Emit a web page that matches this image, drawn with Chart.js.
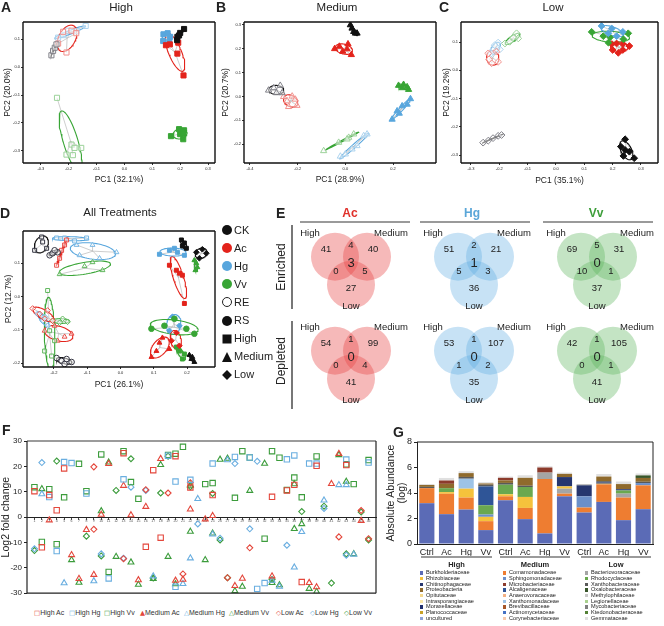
<!DOCTYPE html>
<html>
<head>
<meta charset="utf-8">
<script src="https://cdn.jsdelivr.net/npm/chart.js@4.4.0/dist/chart.umd.min.js"></script>
<style>
body { margin: 0; background: #fff; font-family: "Liberation Sans", Arial, "DejaVu Sans", sans-serif; color: #222; }
#page { position: relative; width: 664px; height: 626px; overflow: hidden; }
canvas { position: absolute; }
.t { position: absolute; white-space: nowrap; line-height: 1; }
.c { transform: translate(-50%, -50%); }
.L { font-weight: bold; font-size: 14px; }
.rot { transform: translate(-50%, -50%) rotate(-90deg); }
.hl { position: absolute; height: 2px; background: #9a9a9a; }
.vl { position: absolute; width: 1.5px; background: #777; }
</style>
</head>
<body>
<div id="page">
  <canvas id="pa" width="218" height="195" style="left:0;top:0"></canvas>
  <canvas id="pb" width="220" height="195" style="left:218px;top:0"></canvas>
  <canvas id="pc" width="226" height="195" style="left:438px;top:0"></canvas>
  <canvas id="pd" width="220" height="190" style="left:0;top:203px"></canvas>
  <canvas id="pe" width="389" height="210" style="left:275px;top:200px"></canvas>
  <canvas id="pf" width="382" height="175" style="left:0;top:425px"></canvas>
  <canvas id="pg" width="279" height="134" style="left:385px;top:428px"></canvas>

  <div class="t L" style="left:1px;top:0">A</div>
  <div class="t c" style="left:121px;top:8px;font-size:11.5px">High</div>
  <div class="t L" style="left:216px;top:0">B</div>
  <div class="t c" style="left:337px;top:8px;font-size:11.5px">Medium</div>
  <div class="t L" style="left:439px;top:0">C</div>
  <div class="t c" style="left:553px;top:8px;font-size:11.5px">Low</div>
  <div class="t L" style="left:0;top:206px">D</div>
  <div class="t c" style="left:120px;top:213px;font-size:11.5px">All Treatments</div>

  <div class="t L" style="left:276px;top:206px">E</div>
  <div class="t c" style="left:350px;top:213px;font-size:12px;font-weight:bold;color:#e0302a">Ac</div>
  <div class="t c" style="left:472px;top:213px;font-size:12px;font-weight:bold;color:#5aa6d8">Hg</div>
  <div class="t c" style="left:596px;top:213px;font-size:12px;font-weight:bold;color:#3d9e3a">Vv</div>
  <div class="hl" style="left:300px;top:221px;width:110px"></div>
  <div class="hl" style="left:420px;top:221px;width:110px"></div>
  <div class="hl" style="left:543px;top:221px;width:110px"></div>
  <div class="t rot" style="left:281px;top:267px;font-size:12px">Enriched</div>
  <div class="vl" style="left:291px;top:225px;height:84px"></div>
  <div class="t rot" style="left:281px;top:361px;font-size:12px">Depleted</div>
  <div class="vl" style="left:291px;top:321px;height:88px"></div>

  <div class="t L" style="left:2px;top:423px">F</div>
  <div class="t L" style="left:393px;top:425px">G</div>
</div>

<script>
Chart.defaults.font.family = '"Liberation Sans", Arial, sans-serif';
Chart.defaults.color = '#222';
Chart.defaults.animation = false;
Chart.defaults.events = [];
Chart.defaults.layout.autoPadding = false;
Chart.defaults.plugins.legend.display = false;
Chart.defaults.plugins.tooltip.enabled = false;

const BLACK = '#111', RED = '#e3231b', BLUE = '#58a6dd', GREEN = '#38a535';

// ---------- PCA scores [PC1, PC2] ----------
// A  High (squares)
const aCkRS = [[0.189,0.096],[0.2,0.122],[0.214,0.136],[0.19,0.108],[0.196,0.113]];
const aAcRS = [[0.149,0.078],[0.163,0.081],[0.19,0.048],[0.193,0.087],[0.212,-0.03]];
const aHgRS = [[0.14,0.117],[0.155,0.121],[0.164,0.108],[0.139,0.093],[0.161,0.09]];
const aVvRS = [[0.167,-0.247],[0.196,-0.222],[0.214,-0.226],[0.2,-0.24],[0.211,-0.258],[0.212,-0.238]];
const aCkRE = [[-0.262,0.042],[-0.256,0.058],[-0.25,0.069],[-0.244,0.081]];
const aAcRE = [[-0.208,0.052],[-0.22,0.126],[-0.19,0.13],[-0.238,0.084],[-0.173,0.121]];
const aHgRE = [[-0.238,0.105],[-0.202,0.13],[-0.139,0.147],[-0.172,0.128],[-0.22,0.114]];
const aVvRE = [[-0.242,-0.11],[-0.19,-0.277],[-0.179,-0.289],[-0.185,-0.315],[-0.155,-0.289],[-0.208,-0.313]];
// B  Medium (triangles)
const bCkRS = [[0.021,0.3],[0.028,0.286],[0.035,0.272],[0.042,0.265],[0.049,0.265]];
const bAcRS = [[-0.045,0.2],[-0.025,0.21],[0.011,0.22],[0.025,0.175],[-0.011,0.189],[0.007,0.199]];
const bVvRS = [[0.223,0.046],[0.244,0.05],[0.259,0.04],[0.265,0.029],[0.238,0.036]];
const bHgRS = [[0.196,-0.096],[0.217,-0.061],[0.238,-0.04],[0.273,-0.01],[0.259,-0.033],[0.226,-0.071]];
const bCkRE = [[-0.322,0.026],[-0.3,0.036],[-0.273,0.046],[-0.265,0.015],[-0.289,0.015]];
const bAcRE = [[-0.259,-0.001],[-0.223,0.001],[-0.203,-0.038],[-0.238,-0.043],[-0.244,-0.019],[-0.21,-0.012]];
const bVvRE = [[-0.091,-0.228],[-0.028,-0.193],[0.014,-0.172],[0.035,-0.158],[0.007,-0.179]];
const bHgRE = [[-0.021,-0.251],[0,-0.242],[0.028,-0.221],[0.077,-0.165],[0.091,-0.158],[0.049,-0.207]];
// C  Low (diamonds)
const cHgRS = [[0.161,0.157],[0.197,0.148],[0.236,0.136],[0.185,0.131],[0.214,0.121]];
const cVvRS = [[0.126,0.136],[0.167,0.121],[0.191,0.117],[0.255,0.131],[0.185,0.098],[0.238,0.11]];
const cAcRS = [[0.197,0.093],[0.214,0.095],[0.236,0.093],[0.259,0.086],[0.2,0.072],[0.22,0.062],[0.236,0.072]];
const cCkRS = [[0.244,-0.244],[0.229,-0.27],[0.244,-0.282],[0.238,-0.303],[0.276,-0.311],[0.259,-0.288]];
const cCkRE = [[-0.257,-0.256],[-0.239,-0.249],[-0.222,-0.24],[-0.204,-0.232],[-0.192,-0.229]];
const cAcRE = [[-0.239,0.06],[-0.204,0.03],[-0.227,0.025],[-0.21,0.066],[-0.236,0.039]];
const cHgRE = [[-0.222,0.072],[-0.204,0.098],[-0.198,0.074],[-0.216,0.089],[-0.227,0.06]];
const cVvRE = [[-0.18,0.095],[-0.139,0.131],[-0.133,0.113],[-0.163,0.101],[-0.151,0.117]];
// D  all treatments
const dCkReH = [[-0.237,0.179],[-0.234,0.164],[-0.222,0.145],[-0.258,0.139]];
const dCkReM = [[-0.213,0.124],[-0.204,0.13],[-0.189,0.133],[-0.198,0.139]];
const dAcReH = [[-0.192,0.094],[-0.162,0.17],[-0.177,0.139],[-0.183,0.115],[-0.168,0.155]];
const dHgReH = [[-0.192,0.176],[-0.168,0.176],[-0.102,0.176],[-0.138,0.167]];
const dHgReM = [[-0.132,0.155],[-0.012,0.133],[-0.084,0.155],[-0.063,0.115],[-0.123,0.124]];
const dVvReM = [[-0.183,0.067],[-0.084,0.103],[-0.054,0.079],[-0.108,0.091]];
const dCkRsH = [[0.183,0.17],[0.192,0.161],[0.198,0.145],[0.186,0.152]];
const dHgRsH = [[0.117,0.127],[0.147,0.139],[0.171,0.133],[0.192,0.124],[0.162,0.145]];
const dAcRsH = [[0.147,0.094],[0.168,0.079],[0.177,0.07],[0.186,0.064],[0.192,-0.021]];
const dVvRsH = [[0.222,0.109],[0.228,0.1],[0.231,0.088],[0.225,0.079]];
const dCkRsL = [[0.228,0.133],[0.246,0.142],[0.258,0.13],[0.237,0.115]];
const dAcReL = [[-0.264,-0.036],[-0.243,-0.052],[-0.219,-0.042],[-0.204,-0.073],[-0.228,-0.067]];
const dHgReL = [[-0.249,-0.052],[-0.234,-0.073],[-0.219,-0.088],[-0.228,-0.061]];
const dVvReL = [[-0.204,-0.073],[-0.183,-0.079],[-0.159,-0.076],[-0.174,-0.067]];
const dVvReH = [[-0.219,0.018],[-0.213,-0.103],[-0.198,-0.133],[-0.228,-0.164],[-0.207,-0.179]];
const dAcReM = [[-0.228,-0.103],[-0.198,-0.088],[-0.147,-0.112],[-0.168,-0.121],[-0.189,-0.133]];
const dCkReL = [[-0.192,-0.185],[-0.177,-0.194],[-0.162,-0.188],[-0.147,-0.197],[-0.168,-0.203]];
const dVvRsL = [[0.093,-0.097],[0.162,-0.067],[0.222,-0.112],[0.198,-0.097],[0.132,-0.088]];
const dAcRsM = [[0.093,-0.182],[0.126,-0.124],[0.147,-0.158],[0.108,-0.164],[0.117,-0.139]];
const dAcRsL = [[0.168,-0.109],[0.177,-0.148],[0.153,-0.133]];
const dHgRsL = [[0.156,-0.061],[0.177,-0.088],[0.147,-0.103]];
const dVvRsM = [[0.177,-0.164],[0.186,-0.188],[0.168,-0.152],[0.192,-0.173]];
const dCkRsM = [[0.207,-0.176],[0.213,-0.188],[0.222,-0.197],[0.216,-0.182]];

// ---------- Venn counts: High, High∩Med, Med, all, High∩Low, Med∩Low, Low ----------
const acEnriched = [41, 4, 40, 3, 0, 5, 27];
const hgEnriched = [51, 2, 21, 1, 5, 3, 36];
const vvEnriched = [69, 5, 31, 0, 10, 1, 37];
const acDepleted = [54, 1, 99, 0, 0, 4, 41];
const hgDepleted = [53, 1, 107, 0, 1, 2, 35];
const vvDepleted = [42, 1, 105, 0, 0, 1, 41];

// ---------- F: log2 fold change, [feature number, value] ----------
const fCount = 46;
const highAc = [[1,10.2],[2,-11.9],[3,8.7],[4,2.7],[5,19.2],[13,25.2],[16,-11.7],[17,18.5],[18,-8.1],[20,24],[22,11.7],[25,8.7],[33,8],[35,10.5],[36,12.7],[37,-25.6],[39,20.2],[43,20.5]];
const highHg = [[3,7.9],[4,-13.4],[5,21.7],[6,21.3],[8,9.3],[11,-24.2],[13,14.9],[19,24.2],[20,14],[20,-27.5],[22,14.7],[25,21.1],[28,23.7],[30,23.5],[31,-28.3],[32,-26],[35,22.8],[36,24.3],[38,21.1],[39,21.1],[43,22.7],[46,21.5]];
const highVv = [[1,11.8],[2,-9.8],[3,11],[4,-10.7],[5,7.8],[7,21],[8,10.2],[10,24.7],[11,-21.6],[13,26],[14,13.8],[15,7.2],[19,24.5],[20,25],[21,27.7],[24,13],[25,13.4],[28,7.6],[29,26],[30,23.5],[32,-8.5],[33,26],[34,23.4],[35,10.7],[36,15.6],[37,7.8],[39,23.9],[43,20.8],[44,13],[46,22.5]];
const medAc = [[3,-1.2],[6,-14.9],[7,-24.3],[8,-5],[9,-22.7],[10,1],[11,21],[13,12.4],[14,0.8],[15,-24.8],[16,4.1],[18,23],[20,-25],[21,-24.6],[22,3.1],[24,-0.8],[25,0.5],[28,-27.1],[29,-24.2],[33,-23.3],[38,-25.9],[39,-27.6],[41,13.1],[42,25],[45,-1.4]];
const medHg = [[2,9.1],[5,-26],[9,-25.2],[17,-23.3],[21,-26.3],[22,-16.2],[23,7.2],[25,-6.8],[27,22.5],[33,-25],[34,-27.4],[36,-19.8],[37,-5.8],[40,6.6],[42,12.7],[43,12.7],[44,-14.7]];
const medVv = [[2,11.1],[6,-16.9],[7,-25.8],[10,2.4],[11,21.6],[12,-15.6],[14,-17.8],[15,-26.6],[17,-24.3],[18,20.6],[19,-15.6],[20,-26.4],[22,12.5],[22,-5.7],[24,-16.9],[25,-6.4],[26,22.7],[27,23.1],[28,-29.1],[29,-27.4],[30,10.4],[32,21.1],[33,-25.9],[34,-26.8],[36,13],[36,-4.6],[37,-2.7],[38,-28.2],[39,-29.4],[42,24.5],[43,14],[44,-14.5]];
const lowAc = [[9,19.8],[9,-4.8],[13,-16.4],[16,10.8],[19,9.5],[21,-22.4],[22,13.5],[27,-23.9],[30,-12.1],[42,-7.8],[45,2.6],[46,-8.5]];
const lowHg = [[1,-12.5],[2,21.5],[10,-14.5],[13,-16.2],[14,11.8],[16,10.5],[23,-2.7],[26,-8.3],[28,21.1],[30,-4.6],[31,22],[35,-11.1],[40,3.4],[43,-15]];
const lowVv = [[1,-13.2],[4,22.1],[8,-7.5],[10,-15.3],[12,10.5],[14,23],[17,-24],[18,9.5],[19,24],[22,12],[25,9.3],[26,-9],[27,-23.9],[33,-24.6],[37,2.2],[40,4.3],[41,-26],[43,-14.5],[45,2],[46,-9]];

// ---------- G: absolute abundance (log), 12 bars ----------
const barLabels = ['Ctrl','Ac','Hg','Vv','Ctrl','Ac','Hg','Vv','Ctrl','Ac','Hg','Vv'];
const levels = ['High','Medium','Low'];
const families = ['Burkholderiaceae','Rhizobiaceae','Chitinophagaceae','Proteobacteria','Opitutaceae','Intrasporangiaceae','Moraxellaceae','Planococcaceae','uncultured',
  'Comamonadaceae','Sphingomonadaceae','Microbacteriaceae','Alcaligenaceae','Anaerovoracaceae','Xanthomonadaceae','Brevibacillaceae','Actinomycetaceae','Corynebacteriaceae',
  'Bacteriovoracaceae','Rhodocyclaceae','Xanthobacteraceae','Oxalobacteraceae','Methylophilaceae','Legionellaceae','Mycobacteriaceae','Ktedonobacteraceae','Gemmataceae'];
const famColors = ['#5b6bb6','#f5c23c','#26366f','#8f6a2c','#f6d98e','#fde9a8','#1f2e6e','#c9a227','#8ea3d8',
  '#ee7d31','#6b8fc9','#8c3b2c','#2f5597','#f4b183','#9dc3e6','#a65628','#4472c4','#f8cbad',
  '#a5a5a5','#6aa84f','#595959','#38562a','#c9c9c9','#a9d18e','#7f7f7f','#548235','#e0e0e0'];
const burk      = [3.2, 2.34, 2.7, 1.09, 3.43, 1.95, 0.83, 3.74, 2.47, 3.3, 1.87, 2.73];
const coma      = [1.18, 1.6, 0.94, 0.7, 0.31, 0.88, 4.27, 0.21, 0.39, 1.38, 1.77, 1.87];
const bacterio  = [0, 0, 0, 0, 0, 0, 0.5, 0.39, 0, 0, 0.31, 0];
const rhizo     = [0, 0.13, 0.7, 0.34, 0.16, 0.86, 0, 0.18, 0, 0.05, 0, 0];
const sphingo   = [0, 0, 0, 0.18, 0, 0, 0, 0, 0.88, 0, 0, 0.18];
const xanthomon = [0, 0, 0.78, 0, 0, 0, 0, 0, 0, 0, 0, 0];
const rhodo     = [0, 0.31, 0, 0.73, 0.75, 0.78, 0, 0, 0, 0, 0.25, 0];
const alcali    = [0, 0, 0, 1.48, 0, 0, 0, 0, 0, 0, 0, 0];
const chitino   = [0, 0, 0, 0, 0, 0, 0, 0.73, 0.86, 0.1, 0.1, 0];
const xanthobac = [0.1, 0, 0.14, 0.13, 0.14, 0.1, 0, 0, 0.05, 0.1, 0, 0.1];
const proteo    = [0.15, 0.34, 0.3, 0.1, 0.2, 0.62, 0, 0.25, 0, 0.36, 0.4, 0.3];
const microbact = [0, 0.26, 0, 0, 0.2, 0, 0.4, 0, 0, 0, 0, 0];
const oxalo     = [0, 0, 0, 0, 0, 0, 0, 0, 0, 0, 0, 0.2];
const gemmat    = [0.07, 0.2, 0.15, 0.1, 0.1, 0.2, 0.1, 0.1, 0.05, 0.2, 0.2, 0.15];
// bottom-to-top stacking, [family index, values]
const stacks = [[0,burk],[9,coma],[18,bacterio],[1,rhizo],[10,sphingo],[14,xanthomon],[19,rhodo],[12,alcali],[2,chitino],[20,xanthobac],[3,proteo],[11,microbact],[21,oxalo],[26,gemmat]];

// ---------- helpers ----------
const framePlugin = {
  id: 'frame',
  afterDraw(chart, args, o) {
    const a = chart.chartArea, c = chart.ctx;
    c.save();
    const side = (col, w, x1, y1, x2, y2) => {
      if (!col) return;
      c.strokeStyle = col; c.lineWidth = w;
      c.beginPath(); c.moveTo(x1, y1); c.lineTo(x2, y2); c.stroke();
    };
    const w = o.width || 1;
    side(o.top, o.topWidth || w, a.left, a.top, a.right, a.top);
    side(o.right, w, a.right, a.top, a.right, a.bottom);
    side(o.bottom, w, a.left, a.bottom, a.right, a.bottom);
    side(o.left, w, a.left, a.top, a.left, a.bottom);
    c.restore();
  }
};

function mean(pts, i) { return pts.reduce((s, p) => s + p[i], 0) / pts.length; }

function ellipse(pts, k) {
  const n = pts.length, mx = mean(pts, 0), my = mean(pts, 1);
  let sxx = 0, syy = 0, sxy = 0;
  pts.forEach(p => { const dx = p[0] - mx, dy = p[1] - my; sxx += dx * dx; syy += dy * dy; sxy += dx * dy; });
  sxx /= n - 1; syy /= n - 1; sxy /= n - 1;
  const tr = sxx + syy, det = sxx * syy - sxy * sxy, d = Math.sqrt(Math.max(tr * tr / 4 - det, 0));
  const l1 = tr / 2 + d, l2 = Math.max(tr / 2 - d, 0), th = 0.5 * Math.atan2(2 * sxy, sxx - syy);
  const out = [];
  for (let i = 0; i <= 60; i++) {
    const a = i / 60 * 2 * Math.PI, u = k * Math.sqrt(l1) * Math.cos(a), v = k * Math.sqrt(l2) * Math.sin(a);
    out.push({x: mx + u * Math.cos(th) - v * Math.sin(th), y: my + u * Math.sin(th) + v * Math.cos(th)});
  }
  return out;
}

function fade(hex, a) {
  const n = parseInt(hex.slice(1), 16), r = n >> 16, g = (n >> 8) & 255, b = n & 255;
  const m = v => Math.round(255 - (255 - v) * a);
  return 'rgb(' + m(r) + ',' + m(g) + ',' + m(b) + ')';
}

const fmt = v => (Math.abs(v) < 1e-9 ? 0 : v).toFixed(1);

function pca(id, groups, o) {
  const ds = [];
  groups.forEach(g => {
    const col = g[0], filled = g[1], pts = g[2], shape = g[3] || o.shape;
    const mx = mean(pts, 0), my = mean(pts, 1);
    const spokes = [];
    pts.forEach(p => spokes.push({x: mx, y: my}, {x: p[0], y: p[1]}, {x: mx, y: null}));
    ds.push({data: spokes, showLine: true, spanGaps: false, borderColor: '#b9b9b9', borderWidth: 0.7, pointRadius: 0, order: 3});
    ds.push({data: ellipse(pts, 1.4), showLine: true, borderColor: col, borderWidth: 1.1, pointRadius: 0, order: 2});
    ds.push({data: pts.map(p => ({x: p[0], y: p[1]})), pointStyle: shape, pointRadius: o.r, borderWidth: 1,
      borderColor: filled ? col : fade(col, o.fade), backgroundColor: filled ? col : 'rgba(255,255,255,0.5)', order: 1});
  });
  new Chart(document.getElementById(id), {
    type: 'scatter',
    data: {datasets: ds},
    options: {
      responsive: false,
      layout: {padding: {top: o.pad[0], right: o.pad[1], bottom: 0, left: 0}},
      scales: {
        x: {min: o.x[0], max: o.x[1], afterFit: s => { s.height = o.xh; },
          ticks: {stepSize: o.xs, includeBounds: false, font: {size: 4}, padding: 1, maxRotation: 0, callback: fmt},
          grid: {drawOnChartArea: false, tickLength: 2, color: '#333'}, border: {display: false},
          title: {display: true, text: o.xt, font: {size: 8.5}, padding: {top: 0, bottom: o.xtp}}},
        y: {min: o.y[0], max: o.y[1], afterFit: s => { s.width = o.yw; },
          ticks: {stepSize: 0.1, includeBounds: false, font: {size: 4}, padding: 1, callback: fmt},
          grid: {drawOnChartArea: false, tickLength: 2, color: '#333'}, border: {display: false},
          title: {display: true, text: o.yt, font: {size: 8.5}, padding: {top: o.ytp, bottom: 0}}}
      },
      plugins: {frame: {top: BLACK, right: BLACK, bottom: BLACK, left: BLACK, width: 1.4}}
    },
    plugins: [framePlugin]
  });
}

// ---------- A-D ----------
pca('pa', [[BLACK,1,aCkRS],[RED,1,aAcRS],[BLUE,1,aHgRS],[GREEN,1,aVvRS],[BLACK,0,aCkRE],[RED,0,aAcRE],[BLUE,0,aHgRE],[GREEN,0,aVvRE]],
  {shape: 'rect', r: 3.6, fade: 0.5, x: [-0.364, 0.325], y: [-0.343, 0.161], xs: 0.1, pad: [22, 3], xh: 32, yw: 23,
   xt: 'PC1 (32.1%)', yt: 'PC2 (20.0%)', xtp: 10, ytp: 3});
pca('pb', [[BLACK,1,bCkRS],[RED,1,bAcRS],[GREEN,1,bVvRS],[BLUE,1,bHgRS],[BLACK,0,bCkRE],[RED,0,bAcRE],[GREEN,0,bVvRE],[BLUE,0,bHgRE]],
  {shape: 'triangle', r: 3.6, fade: 0.5, x: [-0.425, 0.38], y: [-0.279, 0.3125], xs: 0.2, pad: [22, 2], xh: 32, yw: 26,
   xt: 'PC1 (28.9%)', yt: 'PC2 (20.7%)', xtp: 10, ytp: 3});
pca('pc', [[BLUE,1,cHgRS],[GREEN,1,cVvRS],[RED,1,cAcRS],[BLACK,1,cCkRS],[BLACK,0,cCkRE],[RED,0,cAcRE],[BLUE,0,cHgRE],[GREEN,0,cVvRE]],
  {shape: 'rectRot', r: 3.4, fade: 0.5, x: [-0.335, 0.36], y: [-0.328, 0.171], xs: 0.1, pad: [22, 6], xh: 32, yw: 23,
   xt: 'PC1 (35.1%)', yt: 'PC2 (19.2%)', xtp: 9, ytp: 4});
pca('pd', [
  [BLACK,0,dCkReH,'rect'],[BLACK,0,dCkReM,'circle'],[RED,0,dAcReH,'rect'],[BLUE,0,dHgReH,'rect'],[BLUE,0,dHgReM,'triangle'],[GREEN,0,dVvReM,'triangle'],
  [BLACK,1,dCkRsH,'rect'],[BLUE,1,dHgRsH,'rect'],[RED,1,dAcRsH,'rect'],[GREEN,1,dVvRsH,'triangle'],[BLACK,1,dCkRsL,'rectRot'],
  [RED,0,dAcReL,'rectRot'],[BLUE,0,dHgReL,'rectRot'],[GREEN,0,dVvReL,'rectRot'],[GREEN,0,dVvReH,'rect'],[RED,0,dAcReM,'triangle'],[BLACK,0,dCkReL,'circle'],
  [GREEN,1,dVvRsL,'circle'],[RED,1,dAcRsM,'triangle'],[RED,1,dAcRsL,'rectRot'],[BLUE,1,dHgRsL,'rectRot'],[GREEN,1,dVvRsM,'rect'],[BLACK,1,dCkRsM,'triangle']],
  {shape: 'circle', r: 2.8, fade: 0.8, x: [-0.293, 0.284], y: [-0.212, 0.197], xs: 0.1, pad: [28, 5], xh: 26, yw: 23,
   xt: 'PC1 (26.1%)', yt: 'PC2 (12.7%)', xtp: 3, ytp: 4});

// legend of D
const dLegend = [['CK','dot',BLACK],['Ac','dot',RED],['Hg','dot',BLUE],['Vv','dot',GREEN],['RE','ring',BLACK],['RS','dot',BLACK],['High','sq',BLACK],['Medium','tri',BLACK],['Low','dia',BLACK]];
const page = document.getElementById('page');
function add(html, css) { const d = document.createElement('div'); d.className = 't'; d.innerHTML = html; d.style.cssText += css; page.appendChild(d); return d; }
dLegend.forEach((it, i) => {
  const y = 230 + i * 18.1;
  let m;
  if (it[1] === 'dot') m = 'width:10px;height:10px;border-radius:50%;background:' + it[2];
  else if (it[1] === 'ring') m = 'width:8px;height:8px;border-radius:50%;border:1px solid #222;background:#fff';
  else if (it[1] === 'sq') m = 'width:9px;height:9px;background:' + it[2];
  else if (it[1] === 'tri') m = 'width:0;height:0;border-left:5.5px solid transparent;border-right:5.5px solid transparent;border-bottom:10px solid ' + it[2];
  else m = 'width:7px;height:7px;background:' + it[2];
  const d = add('', 'left:227px;top:' + y + 'px;' + m);
  d.style.transform = it[1] === 'dia' ? 'translate(-50%,-50%) rotate(45deg)' : 'translate(-50%,-50%)';
  add(it[0], 'left:234px;top:' + (y - 5.5) + 'px;font-size:11px');
});

// ---------- E: Venn diagrams ----------
const vennData = [[acEnriched, hgEnriched, vvEnriched], [acDepleted, hgDepleted, vvDepleted]];
const vennColors = ['rgba(232,72,72,0.38)', 'rgba(92,170,225,0.34)', 'rgba(92,180,92,0.36)'];
const VX0 = 76, VXU = 123, VY0 = 66, VYU = 94, VR = 24;
const circleOff = [[-16, -9.3], [16, -9.3], [0, 18.7]];
const countOff = [[-25, -17], [0, -21], [22, -17], [0, -3], [-15, 5], [14, 5], [0, 22]];
const vennText = {
  id: 'vennText',
  afterDatasetsDraw(chart) {
    const c = chart.ctx, xs = chart.scales.x, ys = chart.scales.y;
    c.save(); c.fillStyle = '#222'; c.textAlign = 'center'; c.textBaseline = 'middle';
    vennData.forEach((row, r) => row.forEach((counts, s) => {
      const cx = xs.getPixelForValue(s), cy = ys.getPixelForValue(r);
      counts.forEach((v, i) => {
        c.font = (i === 3 ? '13px' : '9.5px') + ' "Liberation Sans", Arial';
        c.fillText(String(v), cx + countOff[i][0], cy + countOff[i][1]);
      });
      c.font = '9.5px "Liberation Sans", Arial';
      c.fillText('High', cx - 41, cy - 33);
      c.fillText('Medium', cx + 40, cy - 33);
      c.fillText('Low', cx, cy + 40);
    }));
    c.restore();
  }
};
new Chart(document.getElementById('pe'), {
  type: 'bubble',
  data: {datasets: vennColors.map((col, s) => ({
    data: [0, 1].flatMap(r => circleOff.map(o => ({x: s + o[0] / VXU, y: r + o[1] / VYU, r: VR}))),
    backgroundColor: col, borderWidth: 0
  }))},
  options: {
    responsive: false, layout: {padding: 0, autoPadding: false}, clip: false,
    scales: {
      x: {display: false, min: -VX0 / VXU, max: (389 - VX0) / VXU},
      y: {display: false, reverse: true, min: -VY0 / VYU, max: (210 - VY0) / VYU}
    }
  },
  plugins: [vennText]
});

// ---------- F ----------
const FR = '#e4473c', FB = '#6aaee0', FG = '#3c9c3c';
const fSeries = [['High Ac', highAc, FR, 'rect'], ['High Hg', highHg, FB, 'rect'], ['High Vv', highVv, FG, 'rect'],
  ['Medium Ac', medAc, FR, 'triangle'], ['Medium Hg', medHg, FB, 'triangle'], ['Medium Vv', medVv, FG, 'triangle'],
  ['Low Ac', lowAc, FR, 'rectRot'], ['Low Hg', lowHg, FB, 'rectRot'], ['Low Vv', lowVv, FG, 'rectRot']];
new Chart(document.getElementById('pf'), {
  type: 'scatter',
  data: {datasets: fSeries.map(s => ({
    label: s[0], data: s[1].map(p => ({x: p[0], y: p[1]})), pointStyle: s[3],
    pointRadius: s[3] === 'rect' ? 3.8 : s[3] === 'triangle' ? 3.4 : 3, borderColor: s[2], backgroundColor: 'rgba(0,0,0,0)', borderWidth: 1.1
  }))},
  options: {
    responsive: false,
    layout: {padding: {top: 16, right: 6, bottom: 4, left: 0}},
    scales: {
      x: {type: 'linear', position: {y: 0}, min: 0, max: fCount + 1,
        afterBuildTicks: s => { s.ticks = s.ticks.filter(t => t.value >= 1 && t.value <= fCount); },
        afterFit: s => { s.height = 0; },
        ticks: {stepSize: 1, includeBounds: false, font: {size: 3.5}, padding: 0, maxRotation: 0, autoSkip: false, color: '#555'},
        grid: {drawOnChartArea: false, tickLength: 2, color: '#444'}, border: {color: '#222', width: 1}},
      y: {min: -30, max: 30, afterFit: s => { s.width = 27; },
        ticks: {stepSize: 10, font: {size: 8}, padding: 2},
        grid: {drawOnChartArea: false, tickLength: 3, color: '#222'}, border: {display: false},
        title: {display: true, text: 'Log2 fold change', font: {size: 10.5}, padding: {top: 0, bottom: 0}}}
    },
    plugins: {frame: {top: '#9b9b9b', topWidth: 2.2, right: '#222', bottom: '#222', left: '#222', width: 1.2}}
  },
  plugins: [framePlugin]
});
// legend of F
const fLegLeft = [34, 69, 104, 140, 184, 229, 276, 310, 344];
const fSym = ['\u25A1', '\u25A1', '\u25A1', '\u25B2', '\u25B3', '\u25B3', '\u25C7', '\u25C7', '\u25C7'];
fSeries.forEach((s, i) => {
  add('<span style="color:' + s[2] + ';font-family:\'DejaVu Sans\';font-size:6.5px">' + fSym[i] + '</span>' + s[0],
    'left:' + fLegLeft[i] + 'px;top:609px;font-size:7px;color:#333');
});

// ---------- G ----------
new Chart(document.getElementById('pg'), {
  type: 'bar',
  data: {labels: barLabels, datasets: stacks.map(s => ({label: families[s[0]], data: s[1], backgroundColor: famColors[s[0]],
    borderWidth: 0, barPercentage: 0.77, categoryPercentage: 1}))},
  options: {
    responsive: false,
    layout: {padding: {top: 14, right: 11, bottom: 0, left: 0}},
    scales: {
      x: {stacked: true, afterFit: s => { s.height = 18; }, grid: {display: false, drawTicks: false}, border: {color: '#222'},
        ticks: {font: {size: 9}, padding: 3, maxRotation: 0, autoSkip: false}},
      y: {stacked: true, min: 0, max: 8, afterFit: s => { s.width = 32; },
        ticks: {stepSize: 2, font: {size: 9}, padding: 2},
        grid: {drawOnChartArea: false, tickLength: 3, color: '#222'}, border: {color: '#222'},
        title: {display: true, text: ['Absolute Abundance', '(log)'], font: {size: 10.5, lineHeight: 1.05}, padding: {top: 1, bottom: 0}}}
    },
    plugins: {frame: {top: '#222', right: '#222', width: 1}}
  },
  plugins: [framePlugin]
});
// group lines, group names and legend of G
const gSpan = [[421, 492], [500, 570], [581, 651]];
const gColMarker = [420, 503, 585];
levels.forEach((lv, c) => {
  add('', 'left:' + gSpan[c][0] + 'px;top:556px;width:' + (gSpan[c][1] - gSpan[c][0]) + 'px;height:2px;background:#9a9a9a');
  const h = add(lv, 'left:' + (gSpan[c][0] + gSpan[c][1]) / 2 + 'px;top:565px;font-size:7.5px;font-weight:bold');
  h.style.transform = 'translate(-50%,-50%)';
  for (let i = 0; i < 9; i++) {
    const k = c * 9 + i, y = 570.2 + i * 5.7;
    add('', 'left:' + gColMarker[c] + 'px;top:' + (y + 1) + 'px;width:3.4px;height:3.4px;background:' + famColors[k]);
    add(families[k], 'left:' + (gColMarker[c] + 6) + 'px;top:' + y + 'px;font-size:5.6px;line-height:5.6px');
  }
});
</script>
</body>
</html>
